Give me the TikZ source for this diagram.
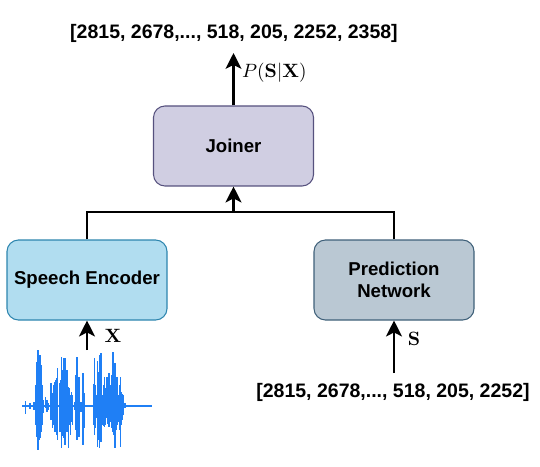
\documentclass[tikz,border=0pt]{standalone}
\usepackage{amsmath,amssymb,mathtools}
\usepackage[no-math]{fontspec}
\setmainfont{Liberation Sans}
\usepackage{tikz}
\usetikzlibrary{arrows.meta}
\definecolor{joinerfill}{HTML}{D0CEE2}
\definecolor{joinerline}{HTML}{56517E}
\definecolor{encoderfill}{HTML}{B1DDF0}
\definecolor{encoderline}{HTML}{2D85AE}
\definecolor{predfill}{HTML}{BAC8D3}
\definecolor{predline}{HTML}{3F6079}
\definecolor{wavecolor}{HTML}{1F7FF5}
\tikzset{
  block/.style={draw,rounded corners=6.5pt,line width=0.6pt,minimum width=3.2cm,minimum height=1.6cm,align=center,font=\fontsize{10.6}{12.5}\selectfont\bfseries},
  seqtext/.style={font=\fontsize{11.1}{13}\selectfont\bfseries},
  mathlabel/.style={font=\fontsize{10.8}{13}\selectfont},
  conn/.style={line width=1.45pt},
  arrow/.style={conn,-{Stealth[length=9pt,width=9pt,inset=2.2pt]}}
}
\begin{document}
\begin{tikzpicture}
\useasboundingbox (0,0) rectangle (10.8,9.32);
\node[block,fill=joinerfill,draw=joinerline] (joiner) at (4.67,6.4) {Joiner};
\node[block,fill=encoderfill,draw=encoderline] (encoder) at (1.74,3.72) {Speech Encoder};
\node[block,fill=predfill,draw=predline] (pred) at (7.88,3.72) {Prediction\\Network};
\node[seqtext] (out) at (4.68,8.66) {[2815, 2678,..., 518, 205, 2252, 2358]};
\node[seqtext] (in) at (7.86,1.48) {[2815, 2678,..., 518, 205, 2252]};
\coordinate (outend) at (4.67,8.26);
\coordinate (wavetop) at (1.74,2.32);
\coordinate (inend) at (7.88,1.86);
\coordinate (merge) at (4.67,5.08);
\draw[arrow] (joiner.north) -- (outend);
\node[right,mathlabel] (prob) at (4.72,7.86) {$P(\mathbf{S}|\mathbf{X})$};
\draw[conn] (encoder.north) |- (merge);
\draw[conn] (pred.north) |- (merge);
\draw[arrow] (merge) -- (joiner.south);
\draw[arrow] (wavetop) -- (encoder.south);
\node[mathlabel] (x) at (2.26,2.6) {$\mathbf{X}$};
\draw[arrow] (inend) -- (pred.south);
\node[mathlabel] (s) at (8.28,2.54) {$\mathbf{S}$};
% waveform
\draw[wavecolor,line width=0.6pt] (0.44,1.2) -- (3.04,1.2);
\foreach \x/\t/\b in {25.3/401/414,30/403/409,34/402/410,36/385/425,37/362/437,38/350/450,39/355/440,40.3/355/438,41.7/365/432,42.7/385/425,43.7/400/413,45.7/397/408,47/400/412,48.3/403/410,
  51/383/420,52.3/393/428,53.3/385/425,54.3/382/432,55.3/380/432,56.3/378/435,57.7/368/440,59.3/383/432,60.5/380/432,61.7/357/448,62.7/370/436,63.7/358/438,65/358/445,66/372/430,67/370/432,68.3/387/448,69.3/388/425,70.3/395/435,71.3/392/422,72.3/395/425,75/402/410,
  76/375/430,77/357/440,78/380/425,79/377/437,81/402/412,83/373/445,84.3/393/428,
  93.7/384/425,94.7/358/435,95.5/385/428,96.3/395/418,97.7/361/447,98.7/372/440,99.7/355/448,100.4/372/430,101/353/442,102.3/395/425,103.3/385/426,104.3/377/427,105.7/388/425,107/377/418,108/382/424,109/373/427,110/385/422,111/385/418,112/375/428,113/352/432,114/365/435,115/363/448,116/380/430,117/377/425,118.3/395/422,119.3/385/430,120.3/377/447,121.7/392/425,122.7/394/420,123.7/395/415,125/403/408} {
  \draw[wavecolor,line width=0.65pt] ({\x/50},{(466-\t)/50}) -- ({\x/50},{(466-\b)/50});
}
\end{tikzpicture}
\end{document}
